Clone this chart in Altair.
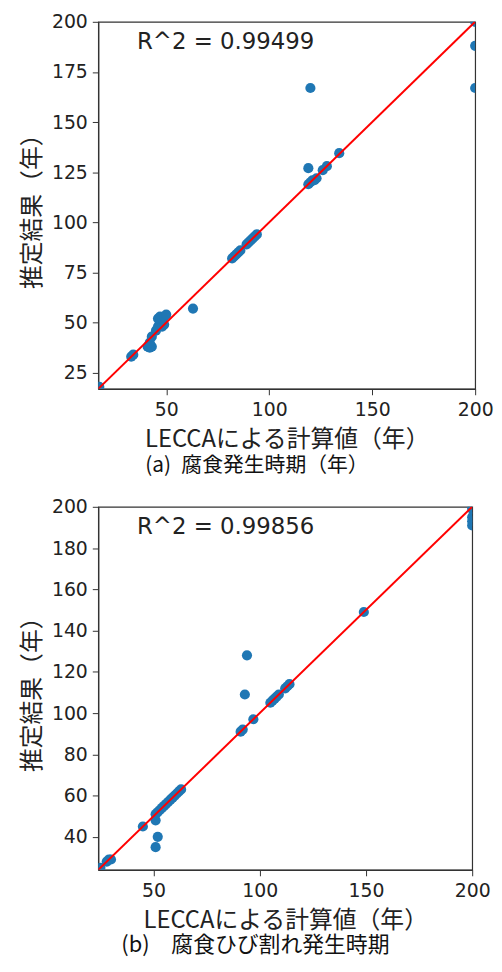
import altair as alt
import pandas as pd

# ---- data ----
a_x = [17.5, 33, 34, 41, 42, 43, 42, 43, 45, 46, 46, 47, 47, 48, 48, 49, 49, 50,
       63, 82, 83, 84, 85, 86, 89, 90, 91, 92, 93, 94,
       119, 120, 121, 122, 123, 119, 120, 126, 128, 134, 200, 200, 200]
a_y = [18, 33, 34, 38, 37.5, 38, 40, 43, 46, 48, 52, 50, 53, 48, 52, 49, 53, 54,
       57, 82, 83, 84, 85, 86, 89, 90, 91, 92, 93, 94,
       119, 120, 121, 121, 122, 127, 167, 126, 128, 134.5, 167, 188, 200]

b_x = [25, 28, 29, 30, 45, 51, 52, 51, 51, 52, 53, 54, 55, 56, 57, 58, 59, 60, 61, 62, 63,
       91, 92, 97, 93, 94, 105, 106, 107, 108, 109, 112, 113, 114, 149,
       200, 200, 200, 200]
b_y = [25, 28, 29, 29, 45, 35, 40, 48, 51, 52, 53, 54, 55, 56, 57, 58, 59, 60, 61, 62, 63,
       91, 92, 97, 109, 128, 105, 106, 107, 108, 109, 112, 113, 114, 149,
       199, 195, 193, 191]

a_domain = [17, 200]
b_domain = [24, 200]
x_ticks = [50, 100, 150, 200]
a_y_ticks = [25, 50, 75, 100, 125, 150, 175, 200]
b_y_ticks = [40, 60, 80, 100, 120, 140, 160, 180, 200]

a_r2 = "R^2 = 0.99499"
b_r2 = "R^2 = 0.99856"
x_title = "LECCAによる計算値（年）"
y_title = "推定結果（年）"
a_caption = "(a)\u2002腐食発生時期（年）"
b_caption = "(b)\u3000腐食ひび割れ発生時期"

JP = "Noto Sans CJK JP"
NUM = "DejaVu Sans"


def panel(xs, ys, domain, y_ticks, r2, caption, cap_size, cap_offset, w, h):
    df = pd.DataFrame({"x": xs, "y": ys})
    line_df = pd.DataFrame({"x": domain, "y": domain})
    xs_ = alt.Scale(domain=domain, nice=False, zero=False)
    ys_ = alt.Scale(domain=domain, nice=False, zero=False)
    xax = alt.Axis(values=x_ticks, title=x_title, labelFlush=False)
    yax = alt.Axis(values=y_ticks, title=y_title)
    pts = alt.Chart(df).mark_circle(size=105, color="#1f77b4", opacity=1, clip=True).encode(
        x=alt.X("x:Q", scale=xs_, axis=xax),
        y=alt.Y("y:Q", scale=ys_, axis=yax),
    )
    line = alt.Chart(line_df).mark_line(color="#ff0000", strokeWidth=2, clip=True).encode(
        x=alt.X("x:Q", scale=xs_),
        y=alt.Y("y:Q", scale=ys_),
    )
    txt = alt.Chart(pd.DataFrame({"t": [r2]})).mark_text(
        align="left", baseline="middle", fontSize=23, font=NUM, color="#222"
    ).encode(x=alt.value(39), y=alt.value(20), text="t:N")
    return alt.layer(pts, line, txt).properties(
        width=w,
        height=h,
        title=alt.TitleParams(
            text=caption, orient="bottom", fontSize=cap_size, font=JP, fontWeight="normal",
            color="#111", offset=cap_offset, anchor="middle", frame="bounds",
        ),
    )


pa = panel(a_x, a_y, a_domain, a_y_ticks, a_r2, a_caption, 21, 4, 380, 370)
pb = panel(b_x, b_y, b_domain, b_y_ticks, b_r2, b_caption, 22, 3, 377, 366)

chart = alt.vconcat(pa, pb, spacing=20).properties(
    padding={"top": 0, "left": 12, "right": 0, "bottom": 0}
).configure_view(stroke="#333", strokeWidth=1.2).configure_axis(
    grid=False,
    domainColor="#333",
    domainWidth=1.2,
    tickColor="#333",
    tickSize=6,
    labelFont=NUM,
    labelFontSize=19,
    labelColor="#222",
    titleFont=JP,
    titleFontWeight="normal",
    titleColor="#222",
).configure_axisX(
    labelPadding=6,
    titlePadding=8,
    titleFontSize=24,
).configure_axisY(
    labelPadding=5,
    titlePadding=7,
    titleFontSize=24,
)

chart.save("out.html", embed_options={"renderer": "svg", "actions": False})
